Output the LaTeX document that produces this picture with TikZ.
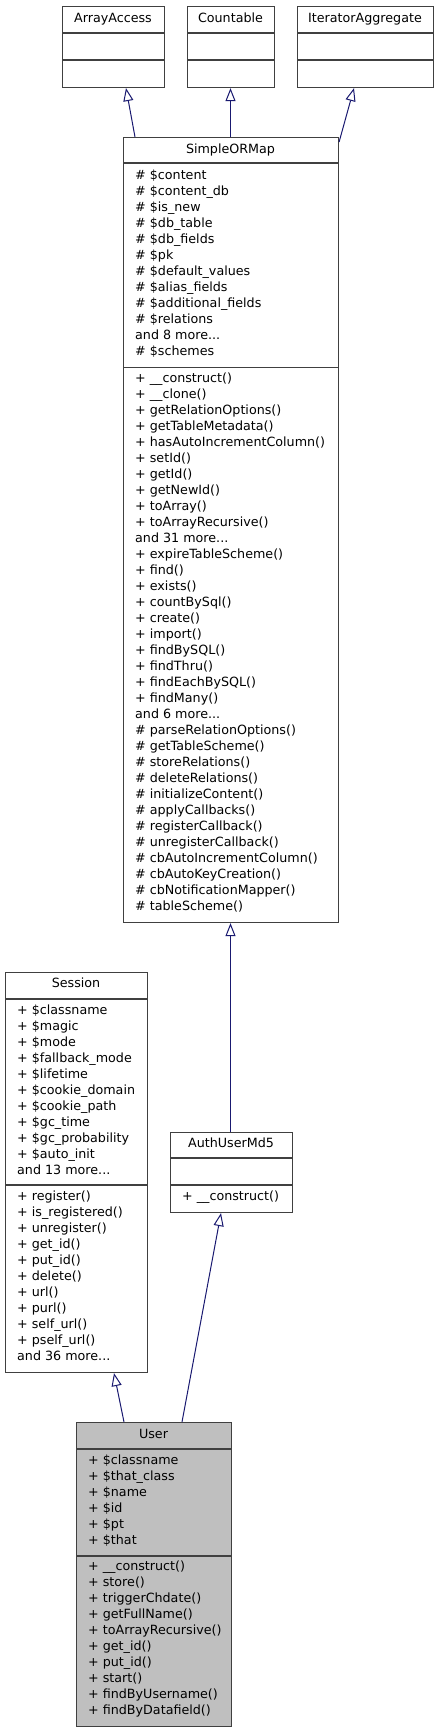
\documentclass[tikz,border=0pt]{standalone}
\usepackage{fontspec}
\setmainfont{DejaVu Sans}
\usetikzlibrary{arrows.meta}
\definecolor{edgeblue}{HTML}{191970}
\definecolor{boxline}{HTML}{404040}
\definecolor{boxgray}{HTML}{BFBFBF}
\newcommand\tdots{...}
\tikzset{
  classbox/.style={draw=boxline, line width=1.1pt, fill=white, rectangle, inner sep=0pt, anchor=north west},
  sepline/.style={draw=boxline, line width=1.3pt},
  txt/.style={anchor=mid west, inner sep=0pt, font=\fontsize{12.7}{15}\selectfont},
  ttl/.style={anchor=mid, inner sep=0pt, font=\fontsize{12.7}{15}\selectfont},
  inh/.style={draw=edgeblue, line width=1pt, -{Triangle[open, length=13pt, width=10pt, fill=white]}},
}
\begin{document}
\begin{tikzpicture}[x=1pt, y=-1pt]
\useasboundingbox (0,0) rectangle (439,1733);

% ---- interfaces ----
\node[classbox, minimum width=102pt, minimum height=81pt] (aa) at (62,6) {};
\draw[sepline] (62,33) -- (164,33) (62,60) -- (164,60);
\node[ttl] (aat) at (113,20) {ArrayAccess};

\node[classbox, minimum width=87pt, minimum height=81pt] (cn) at (187,6) {};
\draw[sepline] (187,33) -- (274,33) (187,60) -- (274,60);
\node[ttl] (cnt) at (230.5,20) {Countable};

\node[classbox, minimum width=136pt, minimum height=81pt] (ia) at (297,6) {};
\draw[sepline] (297,33) -- (433,33) (297,60) -- (433,60);
\node[ttl] (iat) at (365,20) {IteratorAggregate};

% ---- SimpleORMap ----
\node[classbox, minimum width=215pt, minimum height=785pt] (spm) at (123,137) {};
\draw[sepline] (123,163) -- (338,163) (123,367.5) -- (338,367.5);
\node[ttl] (spmt) at (230.5,151) {SimpleORMap};
\foreach \t [count=\i from 0] in {
  \# \$content, \# \$content\_db, \# \$is\_new, \# \$db\_table, \# \$db\_fields,
  \# \$pk, \# \$default\_values, \# \$alias\_fields, \# \$additional\_fields,
  \# \$relations, and 8 more\tdots, \# \$schemes}
  \node[txt, name=spma\i] at (135,177+16*\i) {\t};
\foreach \t [count=\i from 0] in {
  + \_\_construct(), + \_\_clone(), + getRelationOptions(), + getTableMetadata(),
  + hasAutoIncrementColumn(), + setId(), + getId(), + getNewId(), + toArray(),
  + toArrayRecursive(), and 31 more\tdots, + expireTableScheme(), + find(),
  + exists(), + countBySql(), + create(), + import(), + findBySQL(),
  + findThru(), + findEachBySQL(), + findMany(), and 6 more\tdots,
  \# parseRelationOptions(), \# getTableScheme(), \# storeRelations(),
  \# deleteRelations(), \# initializeContent(), \# applyCallbacks(),
  \# registerCallback(), \# unregisterCallback(), \# cbAutoIncrementColumn(),
  \# cbAutoKeyCreation(), \# cbNotificationMapper(), \# tableScheme()}
  \node[txt, name=spmm\i] at (135,380+16*\i) {\t};

% ---- Session ----
\node[classbox, minimum width=142pt, minimum height=400pt] (ses) at (5,972) {};
\draw[sepline] (5,999) -- (147,999) (5,1185) -- (147,1185);
\node[ttl] (sest) at (76,984.5) {Session};
\foreach \t [count=\i from 0] in {
  + \$classname, + \$magic, + \$mode, + \$fallback\_mode, + \$lifetime,
  + \$cookie\_domain, + \$cookie\_path, + \$gc\_time, + \$gc\_probability,
  + \$auto\_init, and 13 more\tdots}
  \node[txt, name=sesa\i] at (17,1012+16*\i) {\t};
\foreach \t [count=\i from 0] in {
  + register(), + is\_registered(), + unregister(), + get\_id(), + put\_id(),
  + delete(), + url(), + purl(), + self\_url(), + pself\_url(), and 36 more\tdots}
  \node[txt, name=sesm\i] at (17,1198+16*\i) {\t};

% ---- AuthUserMd5 ----
\node[classbox, minimum width=122pt, minimum height=80pt] (aum) at (170,1132) {};
\draw[sepline] (170,1158) -- (292,1158) (170,1185) -- (292,1185);
\node[ttl] (aumt) at (231,1145) {AuthUserMd5};
\node[txt] (aumm0) at (182,1198) {+ \_\_construct()};

% ---- User ----
\node[classbox, fill=boxgray, minimum width=155pt, minimum height=304pt] (usr) at (76,1422) {};
\draw[sepline] (76,1449) -- (231,1449) (76,1556) -- (231,1556);
\node[ttl] (usrt) at (153.5,1435.5) {User};
\foreach \t [count=\i from 0] in {
  + \$classname, + \$that\_class, + \$name, + \$id, + \$pt, + \$that}
  \node[txt, name=usra\i] at (88,1462+16*\i) {\t};
\foreach \t [count=\i from 0] in {
  + \_\_construct(), + store(), + triggerChdate(), + getFullName(),
  + toArrayRecursive(), + get\_id(), + put\_id(), + start(),
  + findByUsername(), + findByDatafield()}
  \node[txt, name=usrm\i] at (88,1568+16*\i) {\t};

% ---- inheritance connectors ----
\draw[inh] ([xshift=12pt]spm.north west) -- ([xshift=64pt]aa.south west);
\draw[inh] ([xshift=107.5pt]spm.north west) -- ([xshift=43.5pt]cn.south west);
\draw[inh] ([yshift=-5pt]spm.north east) -- ([xshift=57pt]ia.south west);
\draw[inh] ([xshift=60.5pt]aum.north west) -- ([xshift=107.5pt]spm.south west);
\draw[inh] ([xshift=48pt]usr.north west) -- ([xshift=109pt]ses.south west);
\draw[inh] ([xshift=106pt]usr.north west) -- ([xshift=51pt]aum.south west);
\end{tikzpicture}
\end{document}
